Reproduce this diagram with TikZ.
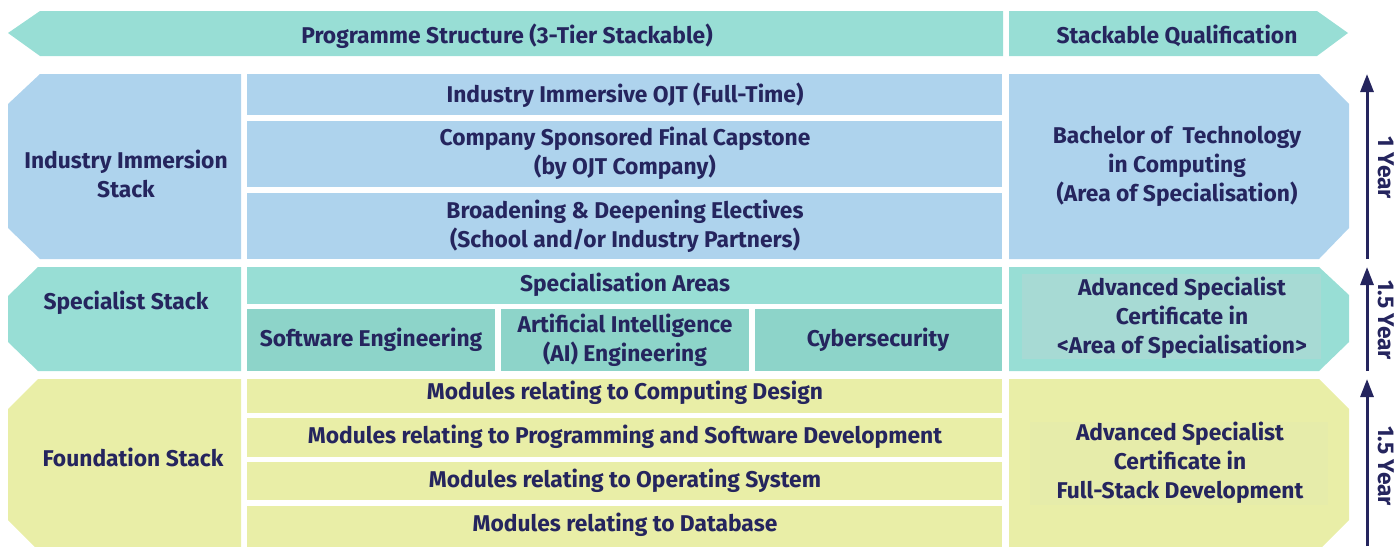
\documentclass[tikz,border=0pt]{standalone}
\usepackage{fontspec}
\setmainfont{Fira Sans}
\usetikzlibrary{arrows.meta}
\definecolor{tealA}{HTML}{98DED5}
\definecolor{tealB}{HTML}{8DD4C9}
\definecolor{tealC}{HTML}{A7DAD4}
\definecolor{blueA}{HTML}{AED3ED}
\definecolor{yelA}{HTML}{E9EEA7}
\definecolor{yelB}{HTML}{E6ECAA}
\definecolor{navy}{HTML}{25255E}
\tikzset{
  lbl/.style={text=navy,font=\bfseries\fontsize{22.8}{29}\selectfont,align=center,inner sep=0pt},
  yr/.style={lbl,rotate=-90},
  yarrow/.style={draw=navy,line width=3pt,-{Triangle[length=18pt,width=13pt]}}
}
\begin{document}
\begin{tikzpicture}[x=1pt,y=-1pt]
\useasboundingbox (0,0) rectangle (1394,546);
% top banner
\fill[tealA] (8,33) -- (40,11) -- (1003,11) -- (1003,56) -- (40,56) -- cycle;
\fill[tealA] (1009,11) -- (1317,11) -- (1348,33) -- (1317,56) -- (1009,56) -- cycle;
\node[lbl] (prog) at (507,36) {Programme Structure (3-Tier Stackable)};
\node[lbl] (qual) at (1177,36) {Stackable Qualification};
% industry stack
\fill[blueA] (40,74) -- (241,74) -- (241,259) -- (40,259) -- (8,228) -- (8,104) -- cycle;
\fill[blueA] (247,74) rectangle (1002,115);
\fill[blueA] (247,121) rectangle (1002,187);
\fill[blueA] (247,193) rectangle (1002,259);
\fill[blueA] (1009,74) -- (1319,74) -- (1349,104) -- (1349,228) -- (1319,259) -- (1009,259) -- cycle;
\node[lbl] (ind) at (126,174) {Industry Immersion\\Stack};
\node[lbl] (ojt) at (625,95) {Industry Immersive OJT (Full-Time)};
\node[lbl] (cap) at (625,153) {Company Sponsored Final Capstone\\(by OJT Company)};
\node[lbl] (elec) at (625,226) {Broadening \& Deepening Electives\\(School and/or Industry Partners)};
\node[lbl] (bach) at (1177,166) {Bachelor of\ \ Technology\\in Computing\\(Area of Specialisation)};
% specialist stack
\fill[tealA] (38,267) -- (241,267) -- (241,371) -- (38,371) -- (8,342) -- (8,296) -- cycle;
\fill[tealA] (247,267) rectangle (1002,304);
\fill[tealB] (247,309) rectangle (495,371);
\fill[tealB] (501,309) rectangle (749,371);
\fill[tealB] (755,309) rectangle (1002,371);
\fill[tealA] (1009,267) -- (1319,267) -- (1349,295) -- (1349,342) -- (1319,371) -- (1009,371) -- cycle;
\fill[tealC] (1022,274) rectangle (1321,359);
\node[lbl] (spec) at (126,303) {Specialist Stack};
\node[lbl] (areas) at (625,285) {Specialisation Areas};
\node[lbl] (se) at (371,340) {Software Engineering};
\node[lbl] (ai) at (625,340) {Artificial Intelligence\\(AI) Engineering};
\node[lbl] (cyb) at (878,340) {Cybersecurity};
\node[lbl] (asc1) at (1182,318) {Advanced Specialist\\Certificate in\\<Area of Specialisation>};
% foundation stack
\fill[yelA] (38,379) -- (241,379) -- (241,550) -- (38,550) -- (8,520) -- (8,409) -- cycle;
\fill[yelA] (247,379) rectangle (1002,413);
\fill[yelA] (247,418) rectangle (1002,457);
\fill[yelA] (247,462) rectangle (1002,500);
\fill[yelA] (247,506) rectangle (1002,550);
\fill[yelA] (1009,379) -- (1319,379) -- (1349,409) -- (1349,520) -- (1319,550) -- (1009,550) -- cycle;
\fill[yelB] (1030,422) rectangle (1328,505);
\node[lbl] (found) at (133,457) {Foundation Stack};
\node[lbl] (m1) at (625,393) {Modules relating to Computing Design};
\node[lbl] (m2) at (625,437) {Modules relating to Programming and Software Development};
\node[lbl] (m3) at (625,481) {Modules relating to Operating System};
\node[lbl] (m4) at (625,525) {Modules relating to Database};
\node[lbl] (asc2) at (1180,463) {Advanced Specialist\\Certificate in\\Full-Stack Development};
% year arrows
\coordinate (a1s) at (1367,259); \coordinate (a1e) at (1367,74);
\coordinate (a2s) at (1367,371); \coordinate (a2e) at (1367,267);
\coordinate (a3s) at (1367,546); \coordinate (a3e) at (1367,379);
\draw[yarrow] (a1s) -- (a1e);
\draw[yarrow] (a2s) -- (a2e);
\draw[yarrow] (a3s) -- (a3e);
\node[yr] (y1) at (1386,168) {1 Year};
\node[yr] (y2) at (1386,320) {1.5 Year};
\node[yr] (y3) at (1386,466) {1.5 Year};
\end{tikzpicture}
\end{document}
